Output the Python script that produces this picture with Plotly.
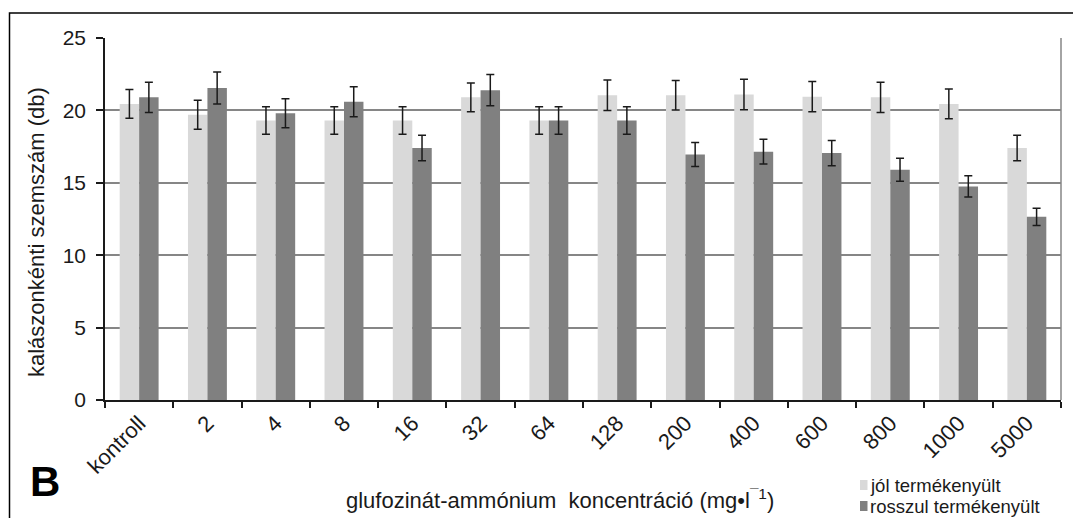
import plotly.graph_objects as go

categories = ["kontroll", "2", "4", "8", "16", "32", "64", "128", "200", "400", "600", "800", "1000", "5000"]
jol = [20.45, 19.7, 19.3, 19.3, 19.3, 20.9, 19.3, 21.05, 21.05, 21.1, 20.95, 20.9, 20.45, 17.4]
jol_err = [1.0, 1.0, 0.95, 0.95, 0.95, 1.0, 0.95, 1.05, 1.02, 1.05, 1.05, 1.05, 1.02, 0.88]
rossz = [20.9, 21.55, 19.8, 20.6, 17.4, 21.4, 19.3, 19.3, 16.95, 17.15, 17.05, 15.9, 14.75, 12.65]
rossz_err = [1.05, 1.1, 1.0, 1.03, 0.88, 1.08, 0.95, 0.95, 0.83, 0.85, 0.87, 0.8, 0.73, 0.6]
series_names = ["jól termékenyült", "rosszul termékenyült"]
series_colors = ["#d9d9d9", "#808080"]

W, H = 1073, 518
L, R, T, B = 105, 12, 38, 118
pw, ph = W - L - R, H - T - B

def px(x):
    return (x - L) / pw

def py(y):
    return (H - B - y) / ph

font = "Liberation Sans, Arial, sans-serif"

fig = go.Figure()
for name, vals, errs, col in zip(series_names, [jol, rossz], [jol_err, rossz_err], series_colors):
    fig.add_trace(go.Bar(
        x=categories, y=vals, name=name,
        marker=dict(color=col, line=dict(width=0)),
        error_y=dict(type="data", array=errs, visible=True, color="#1a1a1a", thickness=1.5, width=4),
    ))

fig.update_layout(
    width=W, height=H,
    margin=dict(l=L, r=R, t=T, b=B, autoexpand=False),
    paper_bgcolor="white", plot_bgcolor="white",
    barmode="group", bargap=0.43, bargroupgap=0,
    font=dict(family=font, size=20, color="#1a1a1a"),
    showlegend=False,
    xaxis=dict(
        type="category", tickangle=-45, ticks="outside", tickson="boundaries",
        ticklen=6, tickcolor="#1a1a1a", tickwidth=1.5,
        showline=True, linecolor="#1a1a1a", linewidth=1.5,
        showgrid=False, tickfont=dict(size=22, family=font),
    ),
    yaxis=dict(
        range=[0, 25], tickvals=[0, 5, 10, 15, 20, 25], ticks="outside",
        ticklen=7, tickcolor="#1a1a1a", tickwidth=1.5, ticklabelstandoff=6,
        showline=True, linecolor="#1a1a1a", linewidth=1.5,
        showgrid=True, gridcolor="#868686", gridwidth=1.5, zeroline=False,
        tickfont=dict(size=21, family=font),
    ),
)

# right border of plot area
fig.add_shape(type="line", xref="paper", yref="paper", x0=1, x1=1, y0=0, y1=1,
              line=dict(color="#868686", width=1.5))
# outer frame
fig.add_shape(type="rect", xref="paper", yref="paper",
              x0=px(9.5), x1=px(1090), y0=py(560), y1=py(13),
              line=dict(color="black", width=1.5), fillcolor="rgba(0,0,0,0)", layer="above")

# legend (manual, compact rows like the reference)
leg_rows = [485, 506]
for name, col, yc in zip(series_names, series_colors, leg_rows):
    fig.add_shape(type="rect", xref="paper", yref="paper",
                  x0=px(860), x1=px(867.5), y0=py(yc + 5), y1=py(yc - 5),
                  line=dict(width=0), fillcolor=col)
    fig.add_annotation(text=name, xref="paper", yref="paper",
                       x=px(869), y=py(yc), xanchor="left", yanchor="middle",
                       borderpad=0,
                       showarrow=False, font=dict(size=18.5, family=font, color="#1a1a1a"))

fig.add_annotation(text="kalászonkénti szemszám (db)", xref="paper", yref="paper",
                   x=px(36), y=py(232), xanchor="center", yanchor="middle",
                   textangle=-90, showarrow=False,
                   font=dict(size=22, family=font, color="#1a1a1a"))
fig.add_annotation(text="glufozinát-ammónium  koncentráció (mg•l<sup>\u00af1</sup>)", xref="paper", yref="paper",
                   x=px(560), y=py(499), xanchor="center", yanchor="middle", showarrow=False,
                   font=dict(size=22, family=font, color="#1a1a1a"))
fig.add_annotation(text="<b>B</b>", xref="paper", yref="paper",
                   x=px(45), y=py(481), xanchor="center", yanchor="middle", showarrow=False,
                   font=dict(size=42, family=font, color="black"))

fig.write_html("out.html", config={"displayModeBar": False},
               post_script="document.body.style.margin='0';document.body.style.padding='0';document.body.style.overflow='hidden';")
